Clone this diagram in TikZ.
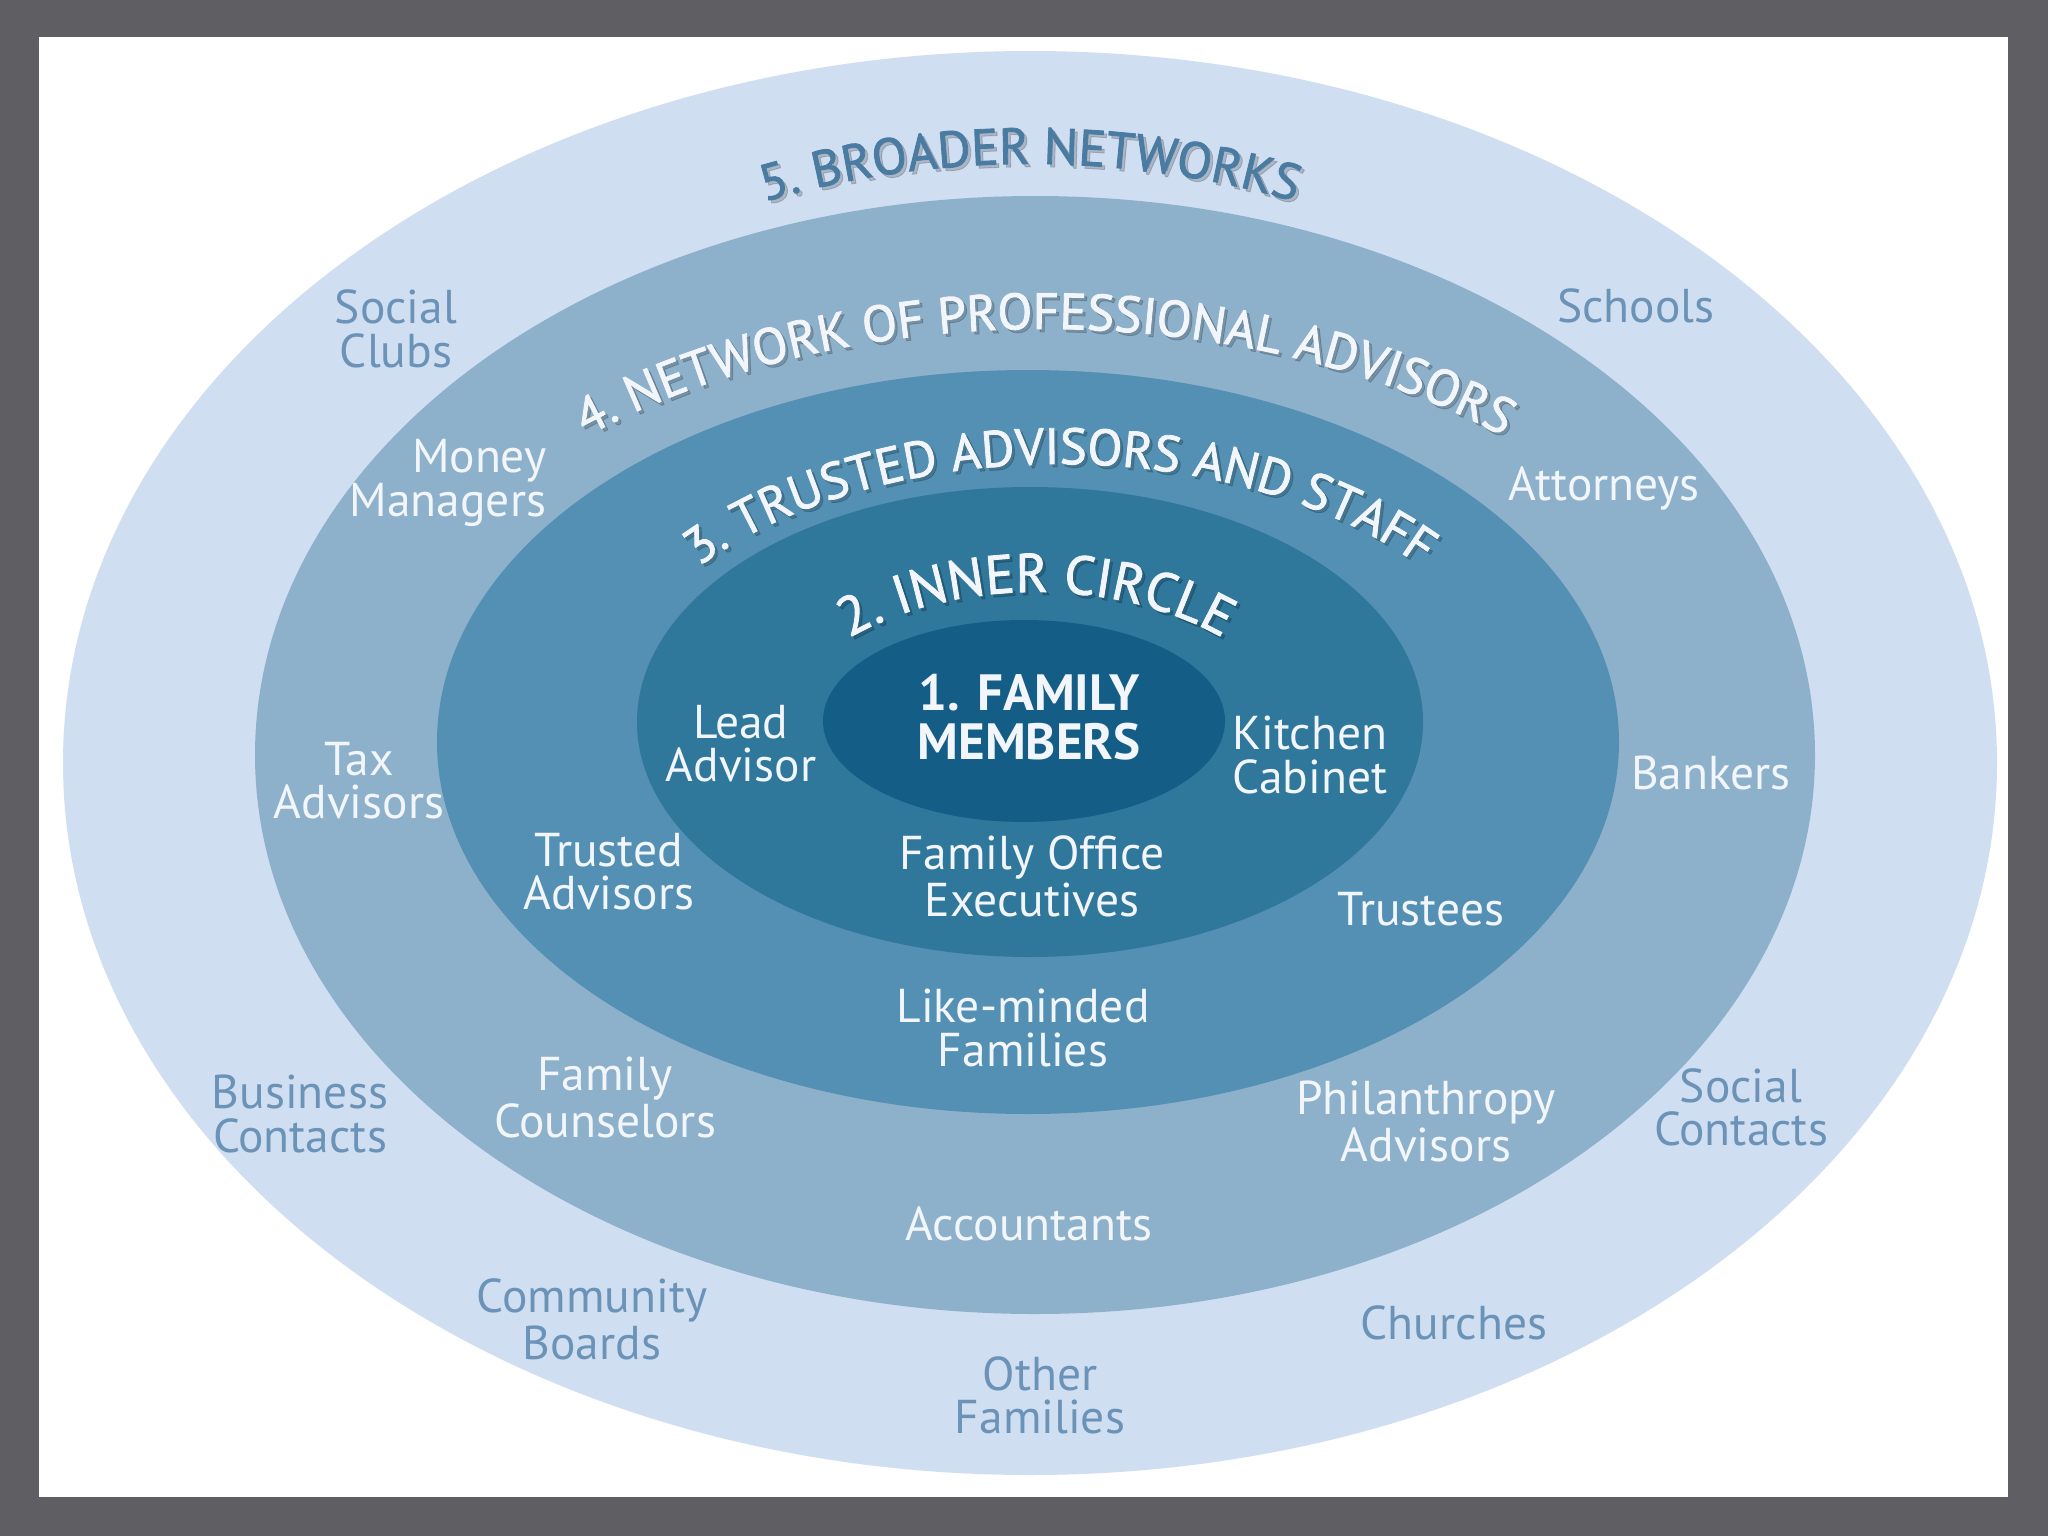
\documentclass[tikz,border=0pt]{standalone}
\usepackage{fontspec}
\setmainfont{PT Sans}
\newfontfamily\titlefont{PT Sans}[FakeBold=1.6]
\usepackage{tikz}
\usetikzlibrary{decorations.text}

\definecolor{slate}{HTML}{5F5F63}
\definecolor{ring5}{HTML}{D0DEF2}
\definecolor{ring4}{HTML}{8EB1CB}
\definecolor{ring3}{HTML}{5390B3}
\definecolor{ring2}{HTML}{30779C}
\definecolor{ring1}{HTML}{145D86}
\definecolor{outertext}{HTML}{6B93B8}
\definecolor{titleblue}{HTML}{4A7BA0}
\definecolor{labelwhite}{HTML}{F2F6FA}

\tikzset{
  lbl/.style={align=center, text=labelwhite, inner sep=0,
    font=\fontsize{13.5}{12.3}\selectfont},
  outerlbl/.style={lbl, text=outertext},
  ringtitle/.style={decorate, decoration={text along path, text align=center,
    text color=#1}},
}

\begin{document}
\begin{tikzpicture}[x=0.01cm, y=-0.01cm]
  \useasboundingbox (0,0) rectangle (2048,1536);
  \fill[slate] (0,0) rectangle (2048,1536);
  \fill[white] (39,37) rectangle (2008,1497);

  % the five rings
  \fill[ring5] (1030,763) ellipse [x radius=967, y radius=712];
  \fill[ring4] (1035,755) ellipse [x radius=780, y radius=559];
  \fill[ring3] (1028,742) ellipse [x radius=591, y radius=372];
  \fill[ring2] (1030,722) ellipse [x radius=393, y radius=235];
  \fill[ring1] (1024,721) ellipse [x radius=201, y radius=101];

  % ring titles, soft shadow first
  \foreach \sh/\op/\tc/\bc in {3/0.18/black/black, 0/1/labelwhite/titleblue} {
    \begin{scope}[shift={(\sh,\sh)}, opacity=\op]
      \titlefont\fontsize{14.5}{16}\selectfont
      \path[ringtitle=\bc, decoration={text={5. BROADER NETWORKS}}]
        ([shift={(190:760 and 599)}]1030,763) arc[start angle=190, end angle=350, x radius=760, y radius=599];
      \path[ringtitle=\tc, decoration={text={4. NETWORK OF PROFESSIONAL ADVISORS}}]
        ([shift={(190:700 and 440)}]1045,769) arc[start angle=190, end angle=350, x radius=700, y radius=440];
      \path[ringtitle=\tc, decoration={text={3. TRUSTED ADVISORS AND STAFF}}]
        ([shift={(190:470 and 285)}]1060,749) arc[start angle=190, end angle=350, x radius=470, y radius=285];
      \fontsize{15.5}{17}\selectfont
      \path[ringtitle=\tc, decoration={text={2. INNER CIRCLE}}]
        ([shift={(190:280 and 180)}]1036,772) arc[start angle=190, end angle=350, x radius=280, y radius=180];
    \end{scope}
  }

  \node[lbl, font=\fontsize{14.5}{14}\selectfont\bfseries] (family) at (1029,717) {1. FAMILY\\MEMBERS};

  % inner circle
  \node[lbl] (lead) at (741,744) {Lead\\Advisor};
  \node[lbl] (kitchen) at (1310,755) {Kitchen\\Cabinet};
  \node[lbl] (office) at (1032,876) {Family Office\\Executives};

  % trusted advisors and staff
  \node[lbl] (trusted) at (609,872) {Trusted\\Advisors};
  \node[lbl] (trustees) at (1421,909) {Trustees};
  \node[lbl] (likeminded) at (1023,1028) {Like-minded\\Families};

  % professional advisors
  \node[lbl, align=right] (money) at (448,483) {Money\\Managers};
  \node[lbl] (tax) at (359,781) {Tax\\Advisors};
  \node[lbl] (attorneys) at (1604,488) {Attorneys};
  \node[lbl] (bankers) at (1711,773) {Bankers};
  \node[lbl] (counselors) at (605,1097) {Family\\Counselors};
  \node[lbl] (philanthropy) at (1426,1121) {Philanthropy\\Advisors};
  \node[lbl] (accountants) at (1029,1224) {Accountants};

  % broader networks
  \node[outerlbl] (socialclubs) at (396,329) {Social\\Clubs};
  \node[outerlbl] (schools) at (1636,306) {Schools};
  \node[outerlbl] (business) at (300,1114) {Business\\Contacts};
  \node[outerlbl] (socialcontacts) at (1741,1107) {Social\\Contacts};
  \node[outerlbl] (community) at (592,1319) {Community\\Boards};
  \node[outerlbl] (otherfam) at (1040,1395) {Other\\Families};
  \node[outerlbl] (churches) at (1454,1323) {Churches};
\end{tikzpicture}
\end{document}
